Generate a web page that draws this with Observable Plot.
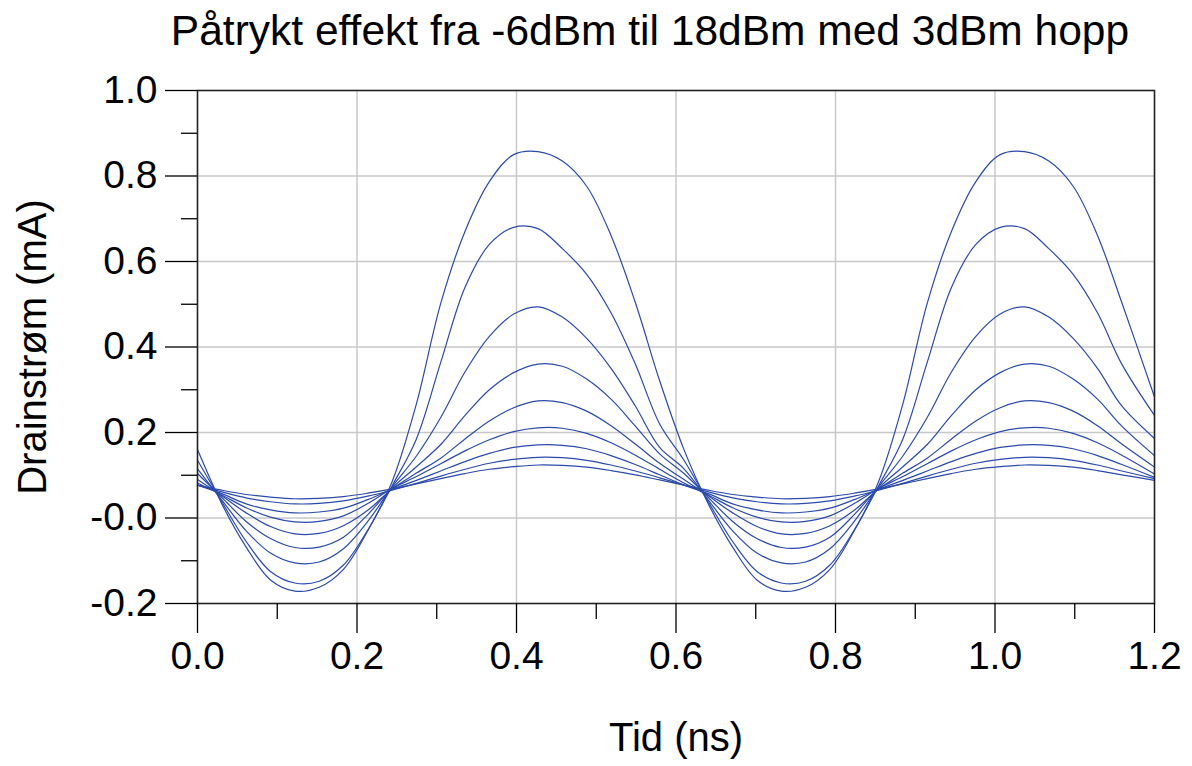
<!DOCTYPE html>
<html><head><meta charset="utf-8">
<script src="https://cdn.jsdelivr.net/npm/d3@7"></script>
<script src="https://cdn.jsdelivr.net/npm/@observablehq/plot@0.6"></script>
<style>
html,body{margin:0;padding:0;background:#fff;overflow:hidden;}
#title{width:1300px;height:62px;line-height:62px;text-align:center;font-family:"Liberation Sans",Arial,sans-serif;font-size:42.5px;color:#000;white-space:nowrap;}
</style></head><body>
<div id="title">Påtrykt effekt fra -6dBm til 18dBm med 3dBm hopp</div>
<div id="chart"></div>
<script>
// time axis (ns)
const times = [0, 0.0305, 0.061, 0.0915, 0.122, 0.1525, 0.183, 0.2135, 0.244, 0.2745,
  0.305, 0.3355, 0.366, 0.3965, 0.427, 0.4575, 0.488, 0.5185, 0.549, 0.5795,
  0.61, 0.6405, 0.671, 0.7015, 0.732, 0.7625, 0.793, 0.8235, 0.854, 0.8845,
  0.915, 0.9455, 0.976, 1.0065, 1.037, 1.0675, 1.098, 1.1285, 1.159, 1.2];

// applied power levels (dBm)
const powerLevels = [-6, -3, 0, 3, 6, 9, 12, 15, 18];

// drain current (mA) per power level
const drainM6 = [0.077,0.065,0.055,0.049,0.045,0.046,0.050,0.058,0.068,0.080,0.092,0.104,0.114,0.120,0.124,0.123,0.119,0.111,0.101,0.089,
  0.077,0.065,0.055,0.049,0.045,0.046,0.050,0.058,0.068,0.080,0.092,0.104,0.114,0.120,0.124,0.123,0.119,0.111,0.101,0.088];
const drainM3 = [0.077,0.061,0.047,0.038,0.033,0.034,0.040,0.051,0.065,0.081,0.098,0.114,0.128,0.137,0.142,0.141,0.135,0.124,0.110,0.094,
  0.077,0.061,0.047,0.038,0.033,0.034,0.040,0.051,0.065,0.081,0.098,0.114,0.128,0.137,0.142,0.141,0.135,0.124,0.110,0.092];
const drain0 = [0.077,0.057,0.033,0.019,0.012,0.014,0.023,0.043,0.067,0.088,0.110,0.132,0.151,0.165,0.171,0.170,0.162,0.146,0.125,0.101,
  0.077,0.057,0.033,0.019,0.012,0.014,0.023,0.043,0.067,0.088,0.110,0.132,0.151,0.165,0.171,0.170,0.162,0.146,0.125,0.095];
const drain3 = [0.082,0.054,0.024,0.002,-0.009,-0.008,0.005,0.034,0.069,0.097,0.127,0.157,0.183,0.202,0.211,0.210,0.198,0.176,0.147,0.114,
  0.082,0.054,0.024,0.002,-0.009,-0.008,0.005,0.034,0.069,0.097,0.127,0.157,0.183,0.202,0.211,0.210,0.198,0.176,0.147,0.103];
const drain6 = [0.090,0.052,0.012,-0.020,-0.037,-0.036,-0.018,0.018,0.068,0.105,0.140,0.185,0.227,0.258,0.274,0.270,0.250,0.216,0.173,0.128,
  0.090,0.052,0.012,-0.020,-0.037,-0.036,-0.018,0.018,0.068,0.105,0.140,0.185,0.227,0.258,0.274,0.270,0.250,0.216,0.173,0.119];
const drain9 = [0.104,0.048,-0.008,-0.048,-0.069,-0.068,-0.045,0.008,0.070,0.120,0.172,0.240,0.300,0.340,0.360,0.355,0.325,0.278,0.215,0.150,
  0.104,0.048,-0.008,-0.048,-0.069,-0.068,-0.045,0.008,0.070,0.120,0.172,0.240,0.300,0.340,0.360,0.355,0.325,0.278,0.215,0.146];
const drain12 = [0.115,0.042,-0.030,-0.082,-0.105,-0.103,-0.072,-0.008,0.073,0.145,0.235,0.342,0.425,0.477,0.494,0.470,0.420,0.350,0.262,0.165,
  0.115,0.042,-0.030,-0.082,-0.105,-0.103,-0.072,-0.008,0.073,0.145,0.235,0.342,0.425,0.477,0.494,0.470,0.420,0.350,0.262,0.186];
const drain15 = [0.135,0.038,-0.055,-0.125,-0.152,-0.148,-0.110,-0.028,0.075,0.185,0.364,0.540,0.640,0.680,0.677,0.630,0.570,0.480,0.360,0.220,
  0.135,0.038,-0.055,-0.125,-0.152,-0.148,-0.110,-0.028,0.075,0.185,0.364,0.540,0.640,0.680,0.677,0.630,0.570,0.480,0.360,0.240];
const drain18 = [0.160,0.033,-0.068,-0.145,-0.171,-0.162,-0.120,-0.030,0.085,0.267,0.502,0.671,0.787,0.850,0.857,0.835,0.776,0.661,0.504,0.321,
  0.160,0.033,-0.068,-0.145,-0.171,-0.162,-0.120,-0.030,0.085,0.267,0.502,0.671,0.787,0.850,0.857,0.835,0.776,0.661,0.504,0.283];

// ticks
const xMajorTicks = [0, 0.2, 0.4, 0.6, 0.8, 1.0, 1.2];
const xMinorTicks = [0.1, 0.3, 0.5, 0.7, 0.9, 1.1];
const yMajorTicks = [-0.2, 0, 0.2, 0.4, 0.6, 0.8, 1.0];
const yMinorTicks = [-0.1, 0.1, 0.3, 0.5, 0.7, 0.9];

const xLabel = "Tid (ns)";
const yLabel = "Drainstrøm (mA)";

const series = [drainM6, drainM3, drain0, drain3, drain6, drain9, drain12, drain15, drain18];
const rows = [];
series.forEach((vals, k) => vals.forEach((v, i) => rows.push({t: times[i], current: v, power: powerLevels[k]})));

const font = '"Liberation Sans", Arial, sans-serif';
const chart = Plot.plot({
  width: 1192, height: 704,
  marginLeft: 197, marginRight: 38, marginTop: 28, marginBottom: 163,
  style: {fontFamily: font, fontSize: "39px", color: "#000", background: "#fff", overflow: "visible"},
  x: {domain: [0, 1.2]},
  y: {domain: [-0.2, 1.0]},
  marks: [
    Plot.gridX(xMajorTicks, {stroke: "#c8c8c8", strokeOpacity: 1, strokeWidth: 1.5}),
    Plot.gridY(yMajorTicks, {stroke: "#c8c8c8", strokeOpacity: 1, strokeWidth: 1.5}),
    Plot.line(rows, {x: "t", y: "current", z: "power", stroke: "#2b4aab", strokeWidth: 1.2, curve: "catmull-rom"}),
    Plot.frame({stroke: "#222", strokeWidth: 1.5}),
    Plot.axisX(xMajorTicks, {tickSize: 30, tickPadding: 8, fontSize: 39, tickFormat: d => d.toFixed(1), label: null, strokeWidth: 1.3}),
    Plot.axisX(xMinorTicks, {tickSize: 16, tickFormat: () => "", label: null, strokeWidth: 1.3}),
    Plot.axisY(yMajorTicks, {tickSize: 32, tickPadding: 8, fontSize: 39, tickFormat: d => d === 0 ? "-0.0" : d.toFixed(1), label: null, strokeWidth: 1.3}),
    Plot.axisY(yMinorTicks, {tickSize: 16, tickFormat: () => "", label: null, strokeWidth: 1.3}),
    Plot.text([xLabel], {frameAnchor: "bottom", dy: 135, fontSize: 40, lineAnchor: "middle", textAnchor: "middle", text: d => d}),
    Plot.text([yLabel], {frameAnchor: "left", dx: -164, rotate: -90, fontSize: 40, lineAnchor: "middle", textAnchor: "middle", text: d => d})
  ]
});
document.getElementById("chart").appendChild(chart);
</script>
</body></html>
